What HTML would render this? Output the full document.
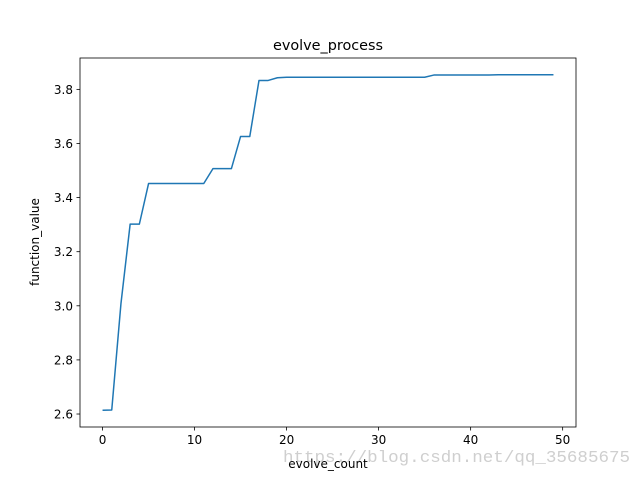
<!DOCTYPE html>
<html><head><meta charset="utf-8"><style>
body{margin:0;background:#fff}
svg text{font-family:"DejaVu Sans","Liberation Sans",sans-serif;fill:#000}
</style></head><body>
<svg width="640" height="480">
<text x="283" y="462" font-size="17" textLength="347" lengthAdjust="spacingAndGlyphs" style="fill:#cfcfcf;font-family:'Liberation Mono',monospace">https://blog.csdn.net/qq_35685675</text>
<g id="g"></g>
<text x="328" y="50" font-size="14.4" text-anchor="middle">evolve_process</text>
<text x="328" y="468" font-size="12" text-anchor="middle">evolve_count</text>
<text x="39" y="242" font-size="12" text-anchor="middle" transform="rotate(-90 39 242)">function_value</text>
</svg>
<script>
const xTicks=[0,10,20,30,40,50];
const yTicks=[2.6,2.8,3.0,3.2,3.4,3.6,3.8];
const yTickLabels=["2.6","2.8","3.0","3.2","3.4","3.6","3.8"];
const values=[2.614,2.615,3.008,3.302,3.302,3.452,3.452,3.452,3.452,3.452,3.452,3.452,3.507,3.507,3.507,3.626,3.626,3.833,3.833,3.843,3.845,3.845,3.845,3.845,3.845,3.845,3.845,3.845,3.845,3.845,3.845,3.845,3.845,3.845,3.845,3.845,3.853,3.853,3.853,3.853,3.853,3.853,3.853,3.854,3.854,3.854,3.854,3.854,3.854,3.854];
const L=80,R=576,T=58,B=427;
const n=values.length-1;
const xmin=-0.05*n,xmax=n*1.05;
const vmin=Math.min(...values),vmax=Math.max(...values),pad=(vmax-vmin)*0.05;
const ymin=vmin-pad,ymax=vmax+pad;
const sx=v=>L+(v-xmin)/(xmax-xmin)*(R-L);
const sy=v=>B-(v-ymin)/(ymax-ymin)*(B-T);
const NS="http://www.w3.org/2000/svg";
const g=document.getElementById('g');
function mk(t,a){const e=document.createElementNS(NS,t);for(const k in a)e.setAttribute(k,a[k]);g.appendChild(e);return e;}
const frame=mk('rect',{x:L,y:T,width:R-L,height:B-T,fill:'none',stroke:'#000','stroke-width':0.8});


xTicks.forEach(t=>{const x=sx(t);
const l=mk('line',{x1:x,x2:x,y1:B,y2:B+3.5,stroke:'#000','stroke-width':0.8});


const tx=mk('text',{x:x,y:B+17,'font-size':12,'text-anchor':'middle'});tx.textContent=t;

});
yTicks.forEach((t,i)=>{const y=sy(t);
const l=mk('line',{x1:L-3.5,x2:L,y1:y,y2:y,stroke:'#000','stroke-width':0.8});


const tx=mk('text',{x:L-7,y:y+4.5,'font-size':12,'text-anchor':'end'});tx.textContent=yTickLabels[i];

});
const p=mk('polyline',{points:values.map((v,i)=>sx(i)+','+sy(v)).join(' '),fill:'none',stroke:'#1f77b4','stroke-width':1.5,'stroke-linejoin':'round'});


</script>
</body></html>
